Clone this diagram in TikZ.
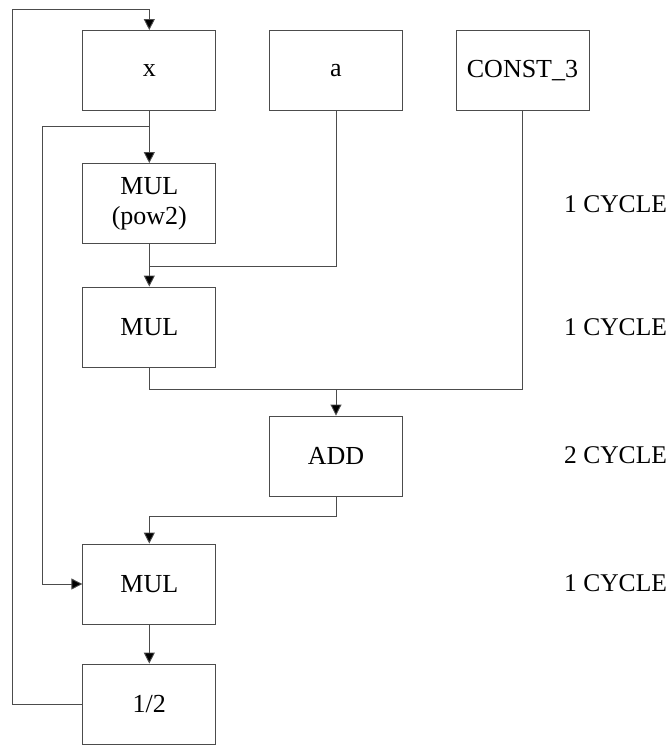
\documentclass[tikz,border=0pt]{standalone}
\usepackage{fontspec}
\setmainfont{Liberation Serif}
\usetikzlibrary{arrows.meta}
\begin{document}
\begin{tikzpicture}[x=1pt,y=-1pt,
  opbox/.style={draw=black!70, line width=0.9pt, minimum width=133pt, minimum height=80pt, inner sep=0pt, align=center, font=\fontsize{26}{30}\selectfont},
  wire/.style={draw=black!70, line width=0.9pt},
  arr/.style={wire, -{Triangle[length=11pt,width=11pt,fill=black]}},
  lbl/.style={anchor=west, inner sep=0pt, font=\fontsize{25.5}{30}\selectfont}]
\useasboundingbox (0,0) rectangle (670,745);
\node[opbox] (x) at (149.3,70.5) {x};
\node[opbox] (a) at (336,70.5) {a};
\node[opbox] (c) at (522.5,70.5) {CONST\_3};
\node[opbox] (p) at (149.3,203.5) {MUL\\(pow2)};
\node[opbox] (m1) at (149.3,327) {MUL};
\node[opbox] (add) at (336,456) {ADD};
\node[opbox] (m2) at (149.3,584) {MUL};
\node[opbox] (h) at (149.3,704) {1/2};
\node[lbl] (l1) at (564,204) {1 CYCLE};
\node[lbl] (l2) at (564,327) {1 CYCLE};
\node[lbl] (l3) at (564,455) {2 CYCLE};
\node[lbl] (l4) at (564,583) {1 CYCLE};
\coordinate (j1) at (149.3,126);
\coordinate (j2) at (149.3,266.7);
\coordinate (j3) at (336,389.7);
% feedback loop
\draw[arr] (h.west) -- (12.3,704) -- (12.3,9) -- (x.north |- 0,9) -- (x.north);
\draw[arr] (x.south) -- (p.north);
\draw[arr] (j1) -- (42.7,126) -- (42.7,584) -- (m2.west);
\draw[wire] (a.south) |- (j2);
\draw[arr] (p.south) -- (m1.north);
\draw[wire] (c.south) |- (m1.south |- j3) -- (m1.south);
\draw[arr] (j3) -- (add.north);
\draw[arr] (add.south) |- (149.3,516) -- (m2.north);
\draw[arr] (m2.south) -- (h.north);
\end{tikzpicture}
\end{document}
